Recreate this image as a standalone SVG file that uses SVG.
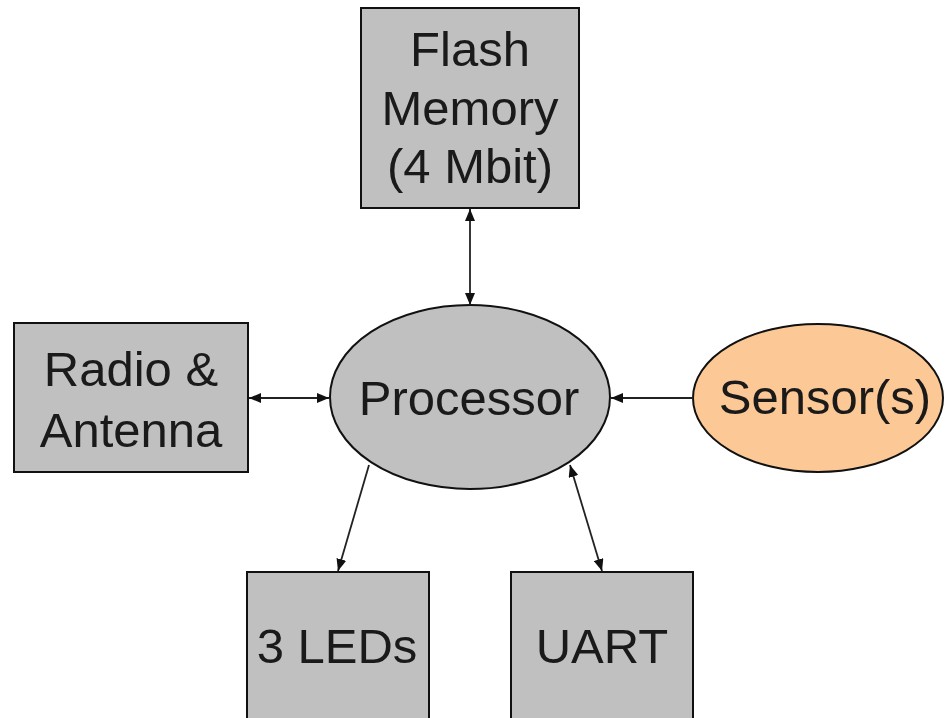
<svg xmlns="http://www.w3.org/2000/svg" width="945" height="718" viewBox="0 0 945 718">
<defs>
<marker id="ah" viewBox="0 0 12 10" refX="12" refY="5" markerWidth="12" markerHeight="10" orient="auto-start-reverse" markerUnits="userSpaceOnUse">
<path d="M0,0 L12,5 L0,10 z" fill="#111"/>
</marker>
<style>
.box{fill:#c0c0c0;stroke:#111;stroke-width:2}
.t{font-family:"Liberation Sans",Arial,sans-serif;font-size:49px;fill:#1a1a1a;text-anchor:middle}
.c{stroke:#222;stroke-width:1.8;fill:none}
</style>
</defs>
<rect width="945" height="718" fill="#fff"/>
<g id="flash">
<rect class="box" x="361" y="8" width="218" height="200"/>
<text class="t" x="470" y="66">Flash</text>
<text class="t" x="470" y="125">Memory</text>
<text class="t" x="470" y="183">(4 Mbit)</text>
</g>
<g id="radio">
<rect class="box" x="14" y="323" width="234" height="149"/>
<text class="t" x="131" y="386">Radio &amp;</text>
<text class="t" x="131" y="447">Antenna</text>
</g>
<g id="processor">
<ellipse cx="470" cy="397" rx="140" ry="92" fill="#c0c0c0" stroke="#111" stroke-width="2"/>
<text class="t" x="469" y="415">Processor</text>
</g>
<g id="sensor">
<ellipse cx="818" cy="398" rx="125" ry="74" fill="#fbc896" stroke="#111" stroke-width="2"/>
<text class="t" x="825" y="414">Sensor(s)</text>
</g>
<g id="leds">
<rect class="box" x="247" y="572" width="182" height="150"/>
<text class="t" x="337" y="663">3 LEDs</text>
</g>
<g id="uart">
<rect class="box" x="511" y="572" width="182" height="150"/>
<text class="t" x="602" y="663">UART</text>
</g>
<g id="connectors">
<line class="c" x1="470" y1="209" x2="470" y2="305" marker-start="url(#ah)" marker-end="url(#ah)"/>
<line class="c" x1="249" y1="398" x2="329" y2="398" marker-start="url(#ah)" marker-end="url(#ah)"/>
<line class="c" x1="693" y1="398" x2="611" y2="398" marker-end="url(#ah)"/>
<line class="c" x1="369" y1="465" x2="338" y2="571" marker-end="url(#ah)"/>
<line class="c" x1="570" y1="465" x2="602" y2="571" marker-start="url(#ah)" marker-end="url(#ah)"/>
</g>
</svg>
